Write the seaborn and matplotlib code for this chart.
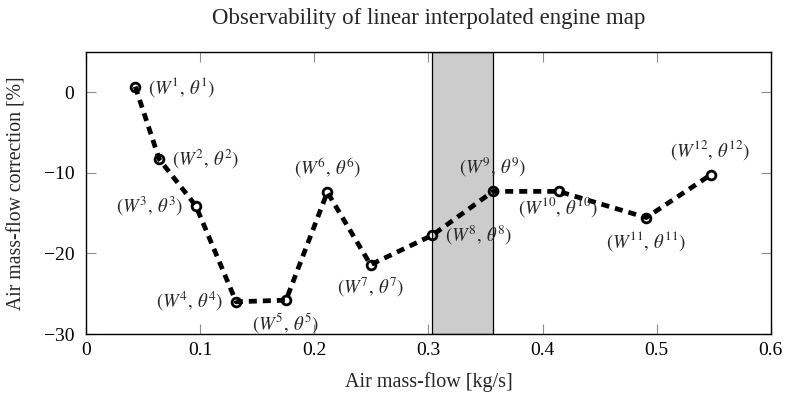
import matplotlib
matplotlib.use("Agg")
import matplotlib.pyplot as plt
import seaborn as sns
import pandas as pd

# ---- data ----
air_flow = [0.0431, 0.0641, 0.0962, 0.1315, 0.1752, 0.2114, 0.2493, 0.3033, 0.3566, 0.4140, 0.4908, 0.5472]
correction = [0.7, -8.3, -14.1, -26.0, -25.8, -12.4, -21.4, -17.75, -12.3, -12.3, -15.55, -10.25]
point_ids = list(range(1, 13))
label_side = ["right", "right", "left", "left", "below", "above",
              "below", "right", "above", "below_near", "below", "above"]
shade_start, shade_end = 0.3033, 0.3566

x_ticks = [0, 0.1, 0.2, 0.3, 0.4, 0.5, 0.6]
x_tick_labels = ["0", "0.1", "0.2", "0.3", "0.4", "0.5", "0.6"]
y_ticks = [-30, -20, -10, 0]
y_tick_labels = ["\u221230", "\u221220", "\u221210", "0"]

df = pd.DataFrame({"flow": air_flow, "corr": correction})

sns.set_theme(style="white")
plt.rcParams["font.family"] = ["Liberation Serif", "DejaVu Serif"]
plt.rcParams["mathtext.fontset"] = "stix"

fig = plt.figure(figsize=(7.85, 4.0), dpi=100)
ax = fig.add_axes([0.1096, 0.165, 0.982 - 0.1096, 0.87 - 0.165])

ax.axvspan(shade_start, shade_end, facecolor="#cccccc", edgecolor="black", linewidth=0.9, zorder=1)

sns.lineplot(data=df, x="flow", y="corr", sort=False, estimator=None, ax=ax,
             color="black", linewidth=3.4, linestyle=(0, (1.7, 1.27)),
             marker="o", markersize=6.3, markerfacecolor="none",
             markeredgecolor="black", markeredgewidth=2.0, zorder=3)

offsets = {"right": ((9, 0), "left", "center"),
           "left": ((-9, 0), "right", "center"),
           "above": ((0, 9), "center", "bottom"),
           "below": ((0, -8), "center", "top"),
           "below_near": ((0, -3), "center", "top")}
for xi, yi, pid, side in zip(air_flow, correction, point_ids, label_side):
    off, ha, va = offsets[side]
    ax.annotate(rf"$(W^{{{pid}}},\,\theta^{{{pid}}})$", (xi, yi), xytext=off,
                textcoords="offset points", ha=ha, va=va, fontsize=13.5, zorder=4)

ax.set_xlim(0, 0.6)
ax.set_ylim(-30, 5)
ax.set_xticks(x_ticks)
ax.set_xticklabels(x_tick_labels)
ax.set_yticks(y_ticks)
ax.set_yticklabels(y_tick_labels)
ax.tick_params(direction="in", length=7.5, width=0.8, color="#8c8c8c",
               bottom=True, left=True, top=True, right=True,
               labelsize=14, labelcolor="black")
ax.tick_params(axis="x", pad=5.5)
ax.tick_params(axis="y", pad=8.5)
for s in ax.spines.values():
    s.set_color("black")
    s.set_linewidth(1.0)
    s.set_visible(True)

ax.set_xlabel("Air mass-flow [kg/s]", fontsize=14.5, labelpad=10)
ax.set_ylabel("Air mass-flow correction [%]", fontsize=14.2, labelpad=12)
ax.set_title("Observability of linear interpolated engine map", fontsize=16.5, pad=20.5)

fig.savefig("out.png", dpi=100)
